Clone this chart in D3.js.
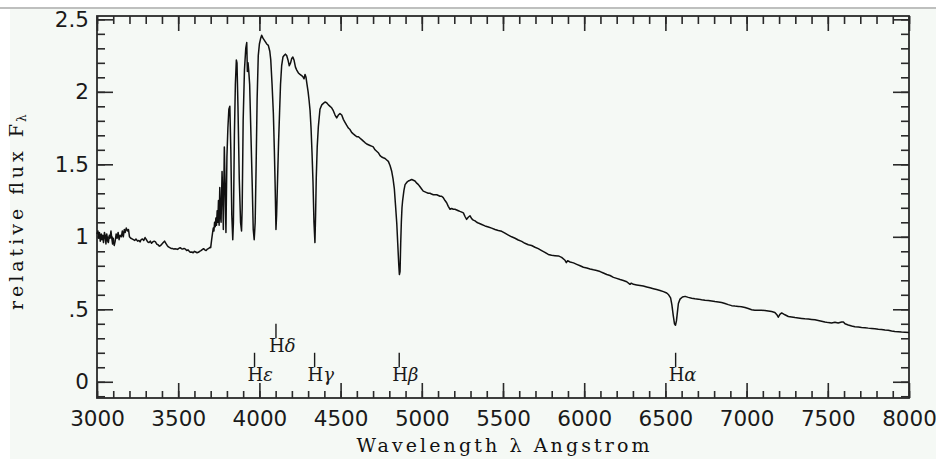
<!DOCTYPE html>
<html>
<head>
<meta charset="utf-8">
<script src="https://cdn.jsdelivr.net/npm/d3@7"></script>
<style>
  html, body { margin: 0; padding: 0; background: #fff; }
  svg { display: block; }
</style>
</head>
<body>
<div id="chart"></div>
<script>
// spectrum: [wavelength (A), relative flux]
const blueContinuum = [
  [3000,1.02],[3006,1.04],[3010,0.99],[3015,1.03],[3020,0.97],[3026,1.02],[3030,0.98],[3035,1.01],
  [3040,0.96],[3046,1.03],[3050,1.01],[3055,0.95],[3060,1.02],[3066,0.97],[3070,0.96],[3076,1.01],
  [3080,0.99],[3086,1.04],[3090,1.00],[3096,0.95],[3100,0.99],[3106,0.94],[3112,0.97],[3118,1.02],
  [3124,0.99],[3130,1.03],[3136,0.98],[3142,1.01],[3150,1.00],[3156,1.04],[3162,1.00],[3168,1.05],
  [3174,1.03],[3180,1.06],[3188,1.04],[3194,1.05],[3200,1.00],[3208,0.99],[3216,0.985],[3224,0.98],
  [3232,0.975],[3240,0.985],[3250,0.97],[3258,0.975],[3265,0.965],[3272,0.98],[3280,0.985],[3288,0.975],
  [3296,0.995],[3304,0.98],[3312,0.965],[3320,0.96],[3328,0.97],[3336,0.955],[3344,0.965],[3352,0.97],
  [3360,0.965],[3368,0.95],[3376,0.945],[3384,0.935],[3392,0.94],[3400,0.95],[3408,0.96],[3416,0.97],
  [3424,0.955],[3432,0.94],[3440,0.93],[3448,0.925],[3456,0.92],[3464,0.92],[3472,0.915],[3480,0.918],
  [3488,0.916],[3496,0.913],[3504,0.92],[3512,0.925],[3520,0.918],[3528,0.915],[3536,0.92],[3544,0.915],
  [3552,0.905],[3560,0.91],[3568,0.9],[3576,0.893],[3584,0.895],[3592,0.89],[3600,0.9],[3608,0.895],
  [3616,0.89],[3624,0.893],[3632,0.9],[3640,0.905],[3648,0.912],[3656,0.918],[3664,0.91],[3672,0.905],
  [3680,0.915],[3688,0.92],[3696,0.928]
];

const balmerSeries = [
  [3700,0.925],[3706,0.98],[3712,1.03],[3716,1.06],[3720,1.04],[3724,1.10],[3728,1.07],[3732,1.13],
  [3736,1.08],[3740,1.18],[3744,1.10],[3748,1.25],[3752,1.08],[3756,1.34],[3760,1.15],[3764,1.10],
  [3770,1.45],[3774,1.30],[3778,1.05],[3784,1.62],[3788,1.40],[3794,1.03],[3800,1.55],[3806,1.75],
  [3812,1.88],[3818,1.90],[3824,1.60],[3830,1.15],[3836,0.98],[3840,1.10],[3846,1.70],[3852,2.05],
  [3858,2.22],[3862,2.20],[3868,1.90],[3876,1.40],[3884,1.10],[3890,1.04],[3894,1.20],[3900,1.80],
  [3908,2.15],[3916,2.30],[3922,2.34],[3926,2.14],[3930,2.20],[3934,2.15],[3940,2.05],[3948,1.70],
  [3956,1.35],[3962,1.05],[3968,0.98],[3974,1.10],[3980,1.50],[3986,1.95],[3993,2.25],[4000,2.33],
  [4008,2.37],[4014,2.39],[4022,2.37],[4034,2.35],[4045,2.33],[4055,2.32],[4064,2.28],[4070,2.22],
  [4078,2.05],[4086,1.85],[4092,1.60],[4097,1.35],[4102,1.05],[4106,1.15],[4112,1.40],[4118,1.65],
  [4124,1.85],[4130,2.05],[4137,2.18],[4145,2.24],[4152,2.25],[4160,2.26],[4168,2.25],[4176,2.22],
  [4184,2.18],[4192,2.20],[4199,2.23],[4206,2.24],[4213,2.22],[4222,2.17],[4230,2.15],[4240,2.13],
  [4250,2.12],[4262,2.11],[4270,2.10],[4275,2.09],[4281,2.12],[4287,2.10],[4292,2.06],[4300,2.00],
  [4306,1.94],[4312,1.87],[4318,1.75],[4324,1.58],[4330,1.38],[4336,1.10],[4342,0.96],[4346,1.15],
  [4350,1.40],[4356,1.62],[4363,1.76],[4373,1.88],[4384,1.91],[4394,1.92],[4404,1.93],[4414,1.925],
  [4425,1.91],[4435,1.90],[4445,1.89],[4455,1.87],[4466,1.84],[4476,1.82],[4486,1.84],[4496,1.85],
  [4507,1.84],[4517,1.81],[4527,1.79],[4537,1.77],[4548,1.75],[4558,1.74],[4568,1.72],[4578,1.71],
  [4589,1.70],[4600,1.69],[4610,1.69],[4620,1.68],[4630,1.67],[4640,1.66],[4650,1.65],[4661,1.64],
  [4671,1.635],[4681,1.63],[4691,1.625],[4701,1.62],[4712,1.60],[4722,1.59],[4732,1.58],[4743,1.56],
  [4753,1.55],[4763,1.545],[4774,1.54],[4784,1.53],[4794,1.52],[4805,1.49],[4815,1.45],[4823,1.40],
  [4831,1.33],[4838,1.22],[4846,1.09],[4852,0.95],[4858,0.81],[4862,0.74],[4866,0.76],[4870,0.95],
  [4874,1.10],[4878,1.20],[4882,1.25],[4890,1.32],[4897,1.36],[4907,1.375],[4917,1.385],[4928,1.39],
  [4938,1.395],[4948,1.39],[4958,1.385],[4969,1.37],[4979,1.36],[4989,1.345],[4999,1.33],[5009,1.315]
];

const redContinuum = [
  [5020,1.31],[5030,1.305],[5040,1.30],[5050,1.30],[5060,1.295],[5071,1.29],[5081,1.29],[5092,1.29],
  [5102,1.285],[5112,1.28],[5122,1.28],[5132,1.27],[5143,1.25],[5153,1.235],[5163,1.21],[5174,1.19],
  [5184,1.195],[5194,1.19],[5204,1.19],[5215,1.185],[5225,1.18],[5235,1.175],[5246,1.17],[5256,1.165],
  [5266,1.14],[5276,1.12],[5286,1.135],[5297,1.145],[5307,1.125],[5317,1.115],[5328,1.11],[5338,1.10],
  [5348,1.095],[5359,1.09],[5369,1.085],[5389,1.075],[5410,1.068],[5430,1.06],[5451,1.05],[5471,1.043],
  [5492,1.038],[5512,1.025],[5533,1.012],[5553,1.0],[5574,0.99],[5594,0.978],[5615,0.968],[5635,0.955],
  [5656,0.945],[5676,0.94],[5697,0.928],[5717,0.918],[5738,0.905],[5758,0.893],[5779,0.878],[5799,0.872],
  [5820,0.87],[5841,0.868],[5861,0.858],[5882,0.838],[5890,0.822],[5898,0.835],[5913,0.826],[5934,0.82],
  [5954,0.81],[5975,0.8],[5995,0.79],[6016,0.785],[6036,0.778],[6057,0.772],[6077,0.767],[6098,0.76],
  [6118,0.75],[6139,0.74],[6159,0.733],[6180,0.72],[6200,0.713],[6221,0.705],[6241,0.699],[6262,0.69],
  [6282,0.672],[6290,0.68],[6303,0.672],[6323,0.668],[6344,0.664],[6364,0.66],[6385,0.654],[6405,0.648],
  [6426,0.642],[6446,0.636],[6467,0.63],[6488,0.622],[6508,0.612],[6520,0.60],[6532,0.578],[6540,0.53],
  [6548,0.46],[6556,0.40],[6562,0.39],[6568,0.42],[6574,0.48],[6580,0.54],[6590,0.57],[6605,0.585],
  [6621,0.589],[6641,0.582],[6662,0.576],[6682,0.572],[6703,0.57],[6723,0.566],[6744,0.563],[6764,0.561],
  [6785,0.557],[6805,0.553],[6826,0.55],[6846,0.547],[6867,0.54],[6887,0.532],[6908,0.525],[6928,0.522],
  [6949,0.52],[6969,0.517],[6990,0.512],[7010,0.505],[7031,0.497],[7051,0.494],[7072,0.493],[7092,0.493],
  [7113,0.492],[7133,0.488],[7154,0.484],[7174,0.478],[7188,0.46],[7195,0.445],[7205,0.465],[7216,0.475],
  [7236,0.462],[7257,0.45],[7277,0.447],[7298,0.443],[7318,0.44],[7339,0.437],[7359,0.434],[7380,0.433],
  [7400,0.43],[7421,0.427],[7441,0.423],[7462,0.418],[7482,0.412],[7503,0.408],[7523,0.405],[7544,0.41],
  [7564,0.405],[7585,0.412],[7596,0.413],[7606,0.40],[7626,0.392],[7647,0.385],[7667,0.38],[7688,0.378],
  [7708,0.375],[7729,0.373],[7749,0.37],[7770,0.368],[7790,0.365],[7811,0.362],[7831,0.36],[7852,0.357],
  [7872,0.355],[7893,0.35],[7913,0.347],[7934,0.345],[7954,0.343],[7975,0.342],[8000,0.34]
];

// hydrogen line markers
const lineNames = ['\u03b5', '\u03b4', '\u03b3', '\u03b2', '\u03b1'];
const lineWaves = [3970, 4102, 4340, 4861, 6563];
const lineRows  = [0, 1, 0, 0, 0];

const xMajorTicks = [3000, 3500, 4000, 4500, 5000, 5500, 6000, 6500, 7000, 7500, 8000];
const yMajorTicks = [0, 0.5, 1, 1.5, 2, 2.5];
const yTickLabels = ['0', '.5', '1', '1.5', '2', '2.5'];

const width = 936, height = 459;
const margin = { left: 97, right: 27, top: 16, bottom: 61 };
const plotW = width - margin.left - margin.right;
const plotH = height - margin.top - margin.bottom;

const spectrum = blueContinuum.concat(balmerSeries, redContinuum);

const x = d3.scaleLinear().domain([3000, 8000]).range([0, plotW]);
const y = d3.scaleLinear().domain([-0.112, 2.523]).range([plotH, 0]);

const svg = d3.select('#chart').append('svg')
    .attr('width', width)
    .attr('height', height);

// page background of the original image
svg.append('rect')
    .attr('x', 10).attr('y', 9)
    .attr('width', width - 10).attr('height', height - 9)
    .attr('fill', '#f5f9f5');
svg.append('line')
    .attr('x1', 0).attr('x2', width)
    .attr('y1', 8).attr('y2', 8)
    .attr('stroke', '#a8aaa8').attr('stroke-width', 1.5);

const g = svg.append('g')
    .attr('transform', 'translate(' + margin.left + ',' + margin.top + ')');

const xMinor = d3.range(3000, 8001, 100);
const yMinor = d3.range(-0.1, 2.51, 0.1);

function tickStyle(sel) {
  sel.select('.domain').remove();
  sel.selectAll('line').attr('stroke', '#2a2a2a').attr('stroke-width', 1.6);
  sel.selectAll('text')
     .attr('fill', '#1a1a1a')
     .style('font-family', '"DejaVu Sans", sans-serif')
     .style('font-size', '21.5px');
}

// bottom
g.append('g').attr('transform', 'translate(0,' + plotH + ')')
    .call(d3.axisBottom(x).tickValues(xMinor).tickSize(-7).tickFormat(''))
    .call(tickStyle);
g.append('g').attr('transform', 'translate(0,' + plotH + ')')
    .call(d3.axisBottom(x).tickValues(xMajorTicks).tickSize(-15).tickPadding(13).tickFormat(d3.format('d')))
    .call(tickStyle);
// top
g.append('g')
    .call(d3.axisTop(x).tickValues(xMinor).tickSize(-8).tickFormat(''))
    .call(tickStyle);
g.append('g')
    .call(d3.axisTop(x).tickValues(xMajorTicks).tickSize(-15).tickFormat(''))
    .call(tickStyle);
// left
g.append('g')
    .call(d3.axisLeft(y).tickValues(yMinor).tickSize(-8).tickFormat(''))
    .call(tickStyle);
g.append('g')
    .call(d3.axisLeft(y).tickValues(yMajorTicks).tickSize(-16).tickPadding(8)
      .tickFormat(function(d, i){ return yTickLabels[i]; }))
    .call(tickStyle);
// right
g.append('g').attr('transform', 'translate(' + plotW + ',0)')
    .call(d3.axisRight(y).tickValues(yMinor).tickSize(-8).tickFormat(''))
    .call(tickStyle);
g.append('g').attr('transform', 'translate(' + plotW + ',0)')
    .call(d3.axisRight(y).tickValues(yMajorTicks).tickSize(-16).tickFormat(''))
    .call(tickStyle);

// frame
g.append('rect')
    .attr('width', plotW).attr('height', plotH)
    .attr('fill', 'none')
    .attr('stroke', '#2a2a2a')
    .attr('stroke-width', 1.8);

const line = d3.line()
    .x(function(d){ return x(d[0]); })
    .y(function(d){ return y(d[1]); });

g.append('path')
    .attr('fill', 'none')
    .attr('stroke', '#111')
    .attr('stroke-width', 1.5)
    .attr('stroke-linejoin', 'round')
    .attr('d', line(spectrum));

// Balmer markers
const markers = g.selectAll('.marker')
    .data(lineWaves)
    .enter().append('g')
    .attr('class', 'marker');

markers.append('line')
    .attr('x1', function(d){ return x(d); })
    .attr('x2', function(d){ return x(d); })
    .attr('y1', function(d, i){ return y(0.1 + lineRows[i] * 0.2); })
    .attr('y2', function(d, i){ return y(0.2 + lineRows[i] * 0.2); })
    .attr('stroke', '#1a1a1a')
    .attr('stroke-width', 1.4);

const labels = markers.append('text')
    .attr('x', function(d){ return x(d) - 7; })
    .attr('y', function(d, i){ return y(lineRows[i] * 0.2) - 1; })
    .attr('fill', '#1a1a1a')
    .style('font-family', '"DejaVu Serif", serif')
    .style('font-size', '18px');
labels.append('tspan').text('H');
labels.append('tspan')
    .style('font-style', 'italic')
    .text(function(d, i){ return lineNames[i]; });

// axis titles
svg.append('text')
    .attr('x', margin.left + plotW / 2)
    .attr('y', 452)
    .attr('text-anchor', 'middle')
    .attr('textLength', 293)
    .attr('lengthAdjust', 'spacing')
    .attr('fill', '#111')
    .style('font-family', '"DejaVu Serif", serif')
    .style('font-size', '19px')
    .text('Wavelength \u03bb Angstrom');

svg.append('text')
    .attr('transform', 'translate(23,310) rotate(-90)')
    .attr('textLength', 186)
    .attr('lengthAdjust', 'spacing')
    .attr('fill', '#111')
    .style('font-family', '"DejaVu Serif", serif')
    .style('font-size', '19px')
    .text('relative flux F');

svg.append('text')
    .attr('transform', 'translate(26,122) rotate(-90)')
    .attr('fill', '#111')
    .style('font-family', '"DejaVu Serif", serif')
    .style('font-size', '12px')
    .text('\u03bb');
</script>
</body>
</html>
